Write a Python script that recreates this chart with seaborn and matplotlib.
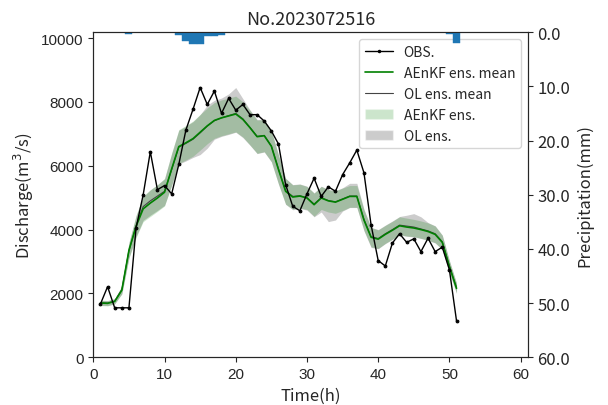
import matplotlib
matplotlib.use("Agg")
import matplotlib.pyplot as plt
import seaborn as sns
import numpy as np
from matplotlib.patches import Patch
from matplotlib.lines import Line2D

# 时间 (h)
hours = list(range(1, 52))

# 实测流量
obs = [1670, 2210, 1550, 1550, 1550, 4050, 5090, 6440, 5250, 5380,
       5120, 6040, 7120, 7770, 8450, 7920, 8340, 7640, 8110, 7740,
       7920, 7600, 7600, 7400, 7090, 6680, 5410, 4730, 4590, 5120,
       5610, 5040, 5340, 5200, 5720, 6090, 6490, 5780, 4150, 3030,
       2860, 3580, 3870, 3600, 3710, 3310, 3730, 3310, 3450, 2740,
       1140]

# AEnKF 集合均值及范围
aenkf_mean = [1700, 1690, 1750, 2100, 3350, 4100, 4650, 4830, 4990, 5170,
              5900, 6600, 6720, 6850, 7050, 7250, 7420, 7500, 7560, 7620,
              7450, 7190, 6910, 6940, 6610, 5880, 5200, 5020, 5050, 4990,
              4780, 4990, 4900, 4860, 4950, 5040, 5040, 4300, 3760, 3700,
              3850, 3980, 4120, 4080, 4050, 4000, 3940, 3850, 3600, 2840,
              2160]
aenkf_lo = [1620, 1610, 1670, 1980, 3100, 3750, 4250, 4410, 4570, 4740,
            5400, 6070, 6180, 6300, 6490, 6690, 6860, 6940, 7000, 7060,
            6900, 6650, 6390, 6440, 6130, 5430, 4800, 4640, 4680, 4630,
            4420, 4630, 4550, 4510, 4600, 4700, 4700, 3980, 3460, 3410,
            3570, 3700, 3840, 3800, 3780, 3730, 3670, 3590, 3380, 2660,
            2010]
aenkf_hi = [1780, 1770, 1830, 2220, 3600, 4450, 5050, 5250, 5410, 5600,
            6400, 7130, 7260, 7400, 7610, 7810, 7980, 8060, 8120, 8180,
            8000, 7730, 7430, 7440, 7090, 6330, 5600, 5400, 5420, 5350,
            5140, 5350, 5250, 5210, 5300, 5380, 5380, 4620, 4060, 3990,
            4130, 4260, 4400, 4360, 4320, 4270, 4210, 4110, 3820, 3020,
            2310]

# OL 集合均值及范围
ol_mean = [1710, 1700, 1760, 2120, 3330, 4120, 4720, 4900, 5050, 5200,
           5880, 6580, 6700, 6830, 7030, 7240, 7410, 7500, 7570, 7640,
           7470, 7200, 6920, 6950, 6620, 5900, 5220, 5040, 5060, 5000,
           4800, 5000, 4910, 4870, 4960, 5050, 5050, 4320, 3780, 3720,
           3870, 4000, 4140, 4110, 4080, 4020, 3960, 3870, 3620, 2860,
           2180]
ol_lo = [1630, 1620, 1680, 1990, 3120, 3780, 4290, 4450, 4600, 4760,
         5380, 6050, 6150, 6260, 6350, 6550, 6830, 6920, 6980, 7050,
         6880, 6640, 6380, 6430, 6120, 5420, 4790, 4620, 4660, 4610,
         4400, 4550, 4250, 4300, 4580, 4690, 4690, 3960, 3440, 3400,
         3560, 3690, 3830, 3790, 3770, 3720, 3660, 3580, 3370, 2650,
         2000]
ol_hi = [1790, 1780, 1840, 2240, 3580, 4430, 5030, 5240, 5400, 5590,
         6380, 7110, 7240, 7380, 7600, 7900, 8050, 8120, 8250, 8450,
         8100, 7750, 7450, 7450, 7100, 6340, 5610, 5410, 5430, 5360,
         5150, 5360, 5260, 5220, 5310, 5450, 5450, 4640, 4070, 4000,
         4140, 4270, 4410, 4450, 4500, 4400, 4220, 4120, 3830, 3030,
         2320]

# 降雨 (mm)
rain_hours = [5, 12, 13, 14, 15, 16, 17, 18, 50, 51]
rain_mm = [0.3, 0.45, 1.6, 2.1, 2.1, 0.7, 0.6, 0.5, 0.4, 2.0]

sns.set_style("ticks")
plt.rcParams['font.family'] = ['Noto Sans CJK SC', 'DejaVu Sans']
plt.rcParams['axes.unicode_minus'] = False

fig, ax = plt.subplots(figsize=(6.08, 4.06), dpi=100)
fig.subplots_adjust(left=0.1535, right=0.868, bottom=0.1175, top=0.918)

# 集合范围
ax.fill_between(hours, ol_lo, ol_hi, color='gray', alpha=0.4, linewidth=0)
ax.fill_between(hours, aenkf_lo, aenkf_hi, color='green', alpha=0.2, linewidth=0)

sns.lineplot(x=hours, y=ol_mean, ax=ax, color='#444444', linewidth=0.8)
sns.lineplot(x=hours, y=aenkf_mean, ax=ax, color='green', linewidth=1.2)
sns.lineplot(x=hours, y=obs, ax=ax, color='black', linewidth=1.0,
             marker='.', markersize=4, markeredgecolor='black')

ax.set_xlim(0, 61)
ax.set_ylim(0, 10180)
ax.set_xticks(range(0, 61, 10))
ax.set_yticks(range(0, 10001, 2000))
for lab in ax.get_xticklabels() + ax.get_yticklabels():
    lab.set_fontfamily('Liberation Sans')
    lab.set_fontsize(11)
ax.set_xlabel('Time(h)', fontsize=12)
ax.set_ylabel('Discharge(m$^3$/s)', fontsize=12)
ax.set_title('No.2023072516', fontsize=13)
for sp in ax.spines.values():
    sp.set_color('#333333')

# 降雨柱状图 (右轴反向)
ax2 = ax.twinx()
ax2.bar(rain_hours, rain_mm, width=1.0, color='#1f77b4', edgecolor='#1f77b4', linewidth=0.3)
ax2.set_ylim(60, 0)
ax2.set_yticks(range(0, 61, 10))
ax2.set_yticklabels([f'{v:.1f}' for v in range(0, 61, 10)], fontsize=12)
ax2.set_ylabel('Precipitation(mm)', fontsize=12)

handles = [
    Line2D([], [], color='black', linewidth=1.0, marker='.', markersize=3),
    Line2D([], [], color='green', linewidth=1.2),
    Line2D([], [], color='#444444', linewidth=0.8),
    Patch(facecolor='green', alpha=0.2),
    Patch(facecolor='gray', alpha=0.4),
]
labels = ['OBS.', 'AEnKF ens. mean', 'OL ens. mean', 'AEnKF ens.', 'OL ens.']
ax.legend(handles, labels, loc='upper right', fontsize=10, frameon=True)

fig.savefig('out.png', dpi=100)
